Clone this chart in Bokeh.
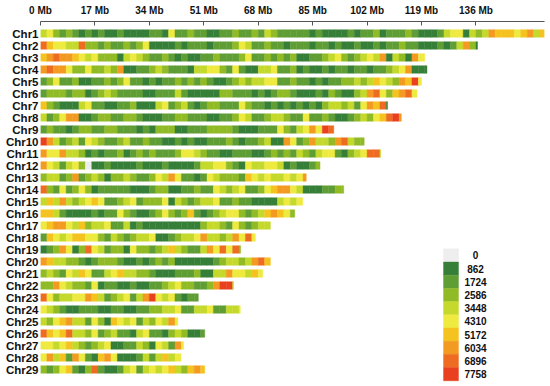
from bokeh.plotting import figure
from bokeh.models import ColumnDataSource, Range1d, FixedTicker
from bokeh.embed import file_html
from bokeh.resources import INLINE
from bokeh.core.properties import value

# ---------------- data ----------------
CHROMS = [f"Chr{i}" for i in range(1, 30)]
LENGTHS_MB = [157.4, 136.5, 120.0, 120.7, 119.0, 117.6, 108.4, 112.7, 91.6, 101.1,
              106.2, 87.3, 83.0, 94.7, 81.9, 79.4, 71.8, 67.1, 62.5, 71.8,
              69.4, 60.3, 49.3, 62.4, 42.9, 51.3, 44.7, 43.9, 51.3]
BIN_MB = 2
# density class per 2-Mb window (index into LEGEND_BREAKS)
DENSITY_LEVELS = [
    "4532321212" "1121111221" "5223221122" "3223243222" "2212111121" "2231222321" "1124551434" "766656746",
    "8655448332" "3223235111" "1212221222" "3542232212" "2212212112" "1121223221" "112124731",
    "6787765453" "3314543223" "2121122322" "2352232323" "1122345323" "4547143175",
    "7877533533" "4371122343" "2221445532" "5211445223" "1211212212" "2122345711" "1",
    "2352231122" "3235221212" "2323232112" "3434455223" "2212122334" "3465437695",
    "2333233123" "4322221122" "2421111133" "2221212332" "1112132113" "478536785",
    "6321114522" "1122311145" "2342123322" "2532212121" "212134434257681",
    "4235771123" "3223321112" "2332221122" "3542234432" "25223211234356897",
    "2322123322" "3322212133" "3112223333" "2111222532" "457598",
    "9742342543" "2234223221" "1212112223" "2122341175" "23744378433",
    "7557443121" "2231232322" "2355432211" "2221123232" "43245521345884",
    "7542453011" "2111121112" "1111244553" "2154455412" "1123",
    "3442372343" "1334322354" "7522125433" "3265454454" "57",
    "8325235312" "2222111233" "1122322543" "4522356775" "41112233",
    "4647434565" "2234523335" "1432344522" "3221111454" "5",
    "6642111121" "2253211235" "3236212345" "5323467653",
    "5677546344" "5224121111" "1111134432" "532344",
    "2654566553" "2432344511" "2344574434" "7585",
    "1237513854" "2331533234" "6432247585" "83",
    "7644332123" "3321121232" "3111111234" "434786",
    "3432546522" "4564433211" "1222311447" "55465",
    "3375433251" "2211211223" "4533223799" "4",
    "8534455764" "2345247954" "52122",
    "5432112221" "1221122334" "4522445224" "45",
    "4356744253" "1654524354" "75",
    "8656844352" "3422145221" "343112",
    "5545643234" "5112243154" "275",
    "5746275216" "7511124246" "45",
    "3235621382" "1124524545" "643676",
]
LEGEND_BREAKS = [0, 862, 1724, 2586, 3448, 4310, 5172, 6034, 6896, 7758]
PALETTE = ["#eeeeee", "#367f38", "#5f9d35", "#90ba26", "#c4d92c",
           "#eeea40", "#f5c31f", "#f29a21", "#ee6b22", "#e9411f"]
TICKS_MB = [0, 17, 34, 51, 68, 85, 102, 119, 136]

# ---------------- layout (pixels) ----------------
W, H = 550, 386
LEFT, TOP, RIGHT = 40, 21, 6
ROW_PX = 12.0
FIRST_ROW_PX = 33.0
BAR_HALF = 3.8 / ROW_PX
FONT = "Liberation Sans"

x_end = LENGTHS_MB[0]
xscale = (W - LEFT - RIGHT) / x_end
y_top = (TOP - FIRST_ROW_PX) / ROW_PX
y_bot = (H - FIRST_ROW_PX) / ROW_PX

p = figure(width=W, height=H, output_backend="svg", toolbar_location=None,
           x_range=Range1d(0, x_end), y_range=Range1d(y_bot, y_top),
           x_axis_location="above", min_border_left=LEFT, min_border_top=TOP,
           min_border_right=RIGHT, min_border_bottom=0)
p.outline_line_color = None
p.xgrid.grid_line_color = None
p.ygrid.grid_line_color = None
p.background_fill_color = "white"
p.border_fill_color = "white"

# bars
left, right, top, bottom, color, dens = [], [], [], [], [], []
for i, (length, levels) in enumerate(zip(LENGTHS_MB, DENSITY_LEVELS)):
    for j, ch in enumerate(levels):
        x0 = j * BIN_MB
        if x0 >= length:
            break
        lv = int(ch)
        left.append(x0)
        right.append(min(x0 + BIN_MB, length))
        top.append(i - BAR_HALF)
        bottom.append(i + BAR_HALF)
        color.append(PALETTE[lv])
        dens.append(LEGEND_BREAKS[lv])
src = ColumnDataSource(dict(left=left, right=right, top=top, bottom=bottom,
                            color=color, density=dens))
p.quad(left="left", right="right", top="top", bottom="bottom", source=src,
       fill_color="color", line_color="color", line_width=0.4)

# x axis (top)
xa = p.xaxis[0]
xa.ticker = FixedTicker(ticks=TICKS_MB)
xa.major_label_overrides = {t: f"{t} Mb" for t in TICKS_MB}
xa.major_tick_in = 4
xa.major_tick_out = 0
xa.minor_tick_in = 0
xa.minor_tick_out = 0
xa.axis_line_color = "#555555"
xa.major_tick_line_color = "#555555"
xa.major_label_standoff = 6
xa.major_label_text_font = FONT
xa.major_label_text_font_style = "bold"
xa.major_label_text_font_size = "10px"
xa.major_label_text_color = "#111111"

# y axis (chromosome names)
ya = p.yaxis[0]
ya.ticker = FixedTicker(ticks=list(range(len(CHROMS))))
ya.major_label_overrides = {i: c for i, c in enumerate(CHROMS)}
ya.axis_line_color = None
ya.major_tick_line_color = None
ya.minor_tick_line_color = None
ya.major_tick_in = 0
ya.major_tick_out = 0
ya.major_label_standoff = 2
ya.major_label_text_font = FONT
ya.major_label_text_font_style = "bold"
ya.major_label_text_font_size = "11.5px"
ya.major_label_text_color = "#111111"

# legend
BOX_X0, BOX_X1, BOX_Y0, BOX_H, LABEL_X = 443, 458, 248.3, 13.2, 475
lg_left, lg_right, lg_top, lg_bottom, lg_y = [], [], [], [], []
for k in range(len(LEGEND_BREAKS)):
    y0 = BOX_Y0 + BOX_H * k
    lg_left.append((BOX_X0 - LEFT) / xscale)
    lg_right.append((BOX_X1 - LEFT) / xscale)
    lg_top.append((y0 - FIRST_ROW_PX) / ROW_PX)
    lg_bottom.append((y0 + BOX_H - FIRST_ROW_PX) / ROW_PX)
    lg_y.append((y0 + BOX_H / 2 - FIRST_ROW_PX) / ROW_PX)
lsrc = ColumnDataSource(dict(left=lg_left, right=lg_right, top=lg_top, bottom=lg_bottom,
                             y=lg_y, x=[(LABEL_X - LEFT) / xscale] * len(LEGEND_BREAKS),
                             color=PALETTE, label=[str(b) for b in LEGEND_BREAKS]))
p.quad(left="left", right="right", top="top", bottom="bottom", source=lsrc,
       fill_color="color", line_color="color", line_width=0.4)
p.text(x="x", y="y", text="label", source=lsrc, text_align="center",
       text_baseline="middle", text_font=value(FONT), text_font_style="bold",
       text_font_size="10px", text_color="#111111")

open("out.html", "w").write(file_html(p, INLINE))
